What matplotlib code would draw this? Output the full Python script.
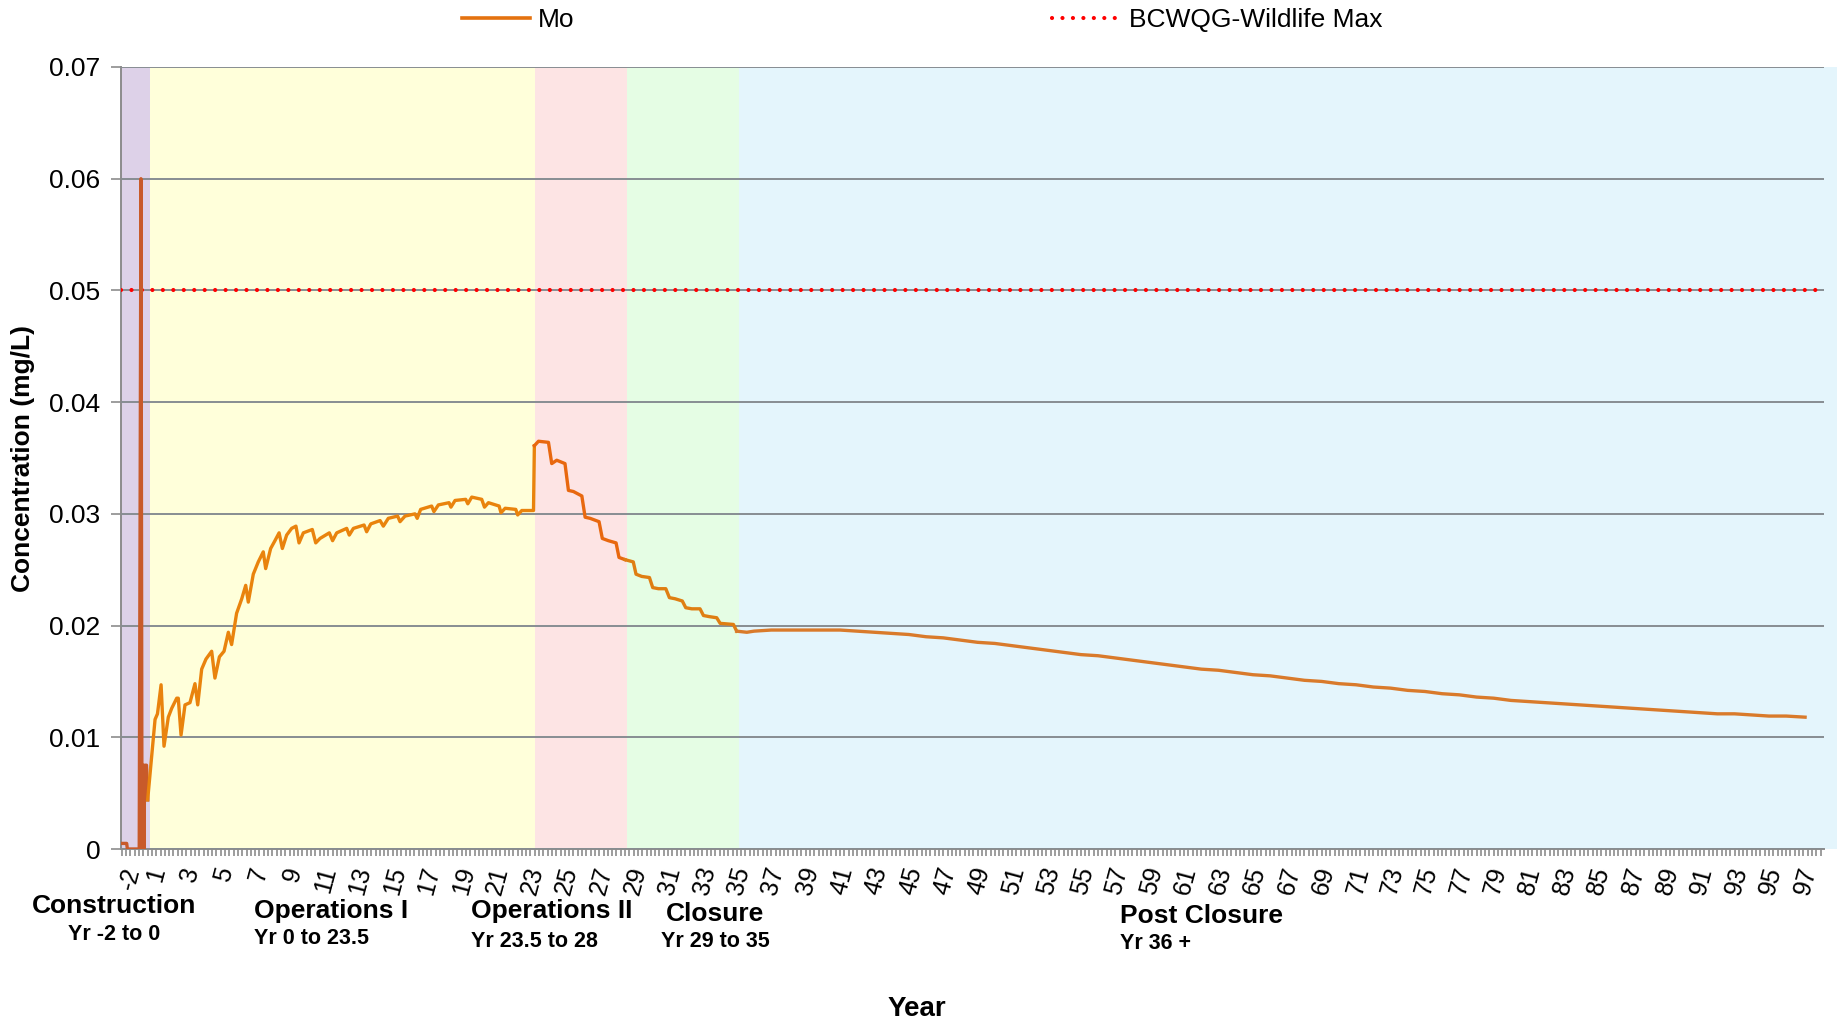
import numpy as np
import matplotlib
matplotlib.use("Agg")
import matplotlib.pyplot as plt
from matplotlib.lines import Line2D
from matplotlib.ticker import MultipleLocator

plt.rcParams["font.family"] = ["Liberation Sans", "DejaVu Sans"]

# ----------------------------------------------------------------------
# Data (x in axis "year" units, y in mg/L)
# ----------------------------------------------------------------------

# construction period (darker line)
constr_year = [-0.80, -0.47, -0.43, 0.26, 0.36, 0.42, 0.48, 0.53, 0.58, 0.68, 0.75]
constr_mo = [0.0005, 0.0005, 0.0, 0.0, 0.060, 0.0, 0.0075, 0.0, 0.0075, 0.0075, 0.0044]

# operations / closure
mo_year = [
    0.75, 1.18, 1.32, 1.53, 1.70, 1.95, 2.15, 2.44, 2.53, 2.69, 2.92, 3.21,
    3.50, 3.66, 3.89, 4.14, 4.47, 4.66, 4.92, 5.19, 5.44, 5.63, 5.92, 6.22,
    6.45, 6.60, 6.89, 7.18, 7.47, 7.61, 7.90, 8.15, 8.39, 8.58, 8.83, 9.12,
    9.37, 9.55, 9.80, 10.32, 10.52, 10.77, 11.31, 11.50, 11.74, 12.32, 12.47,
    12.71, 13.33, 13.48, 13.72, 14.26, 14.45, 14.74, 15.28, 15.42, 15.71,
    16.29, 16.42, 16.62, 17.26, 17.39, 17.65, 18.27, 18.38, 18.62, 19.24,
    19.36, 19.59, 20.17, 20.33, 20.56, 21.18, 21.29, 21.53, 22.15, 22.26,
    22.50, 23.18, 23.23, 23.47, 24.05, 24.24, 24.53, 25.01, 25.21, 25.50,
    25.99, 26.18, 26.47, 26.99, 27.18, 27.53, 27.98, 28.15, 28.50, 28.98,
    29.14, 29.47, 29.92, 30.11, 30.44, 30.87, 31.08, 31.41, 31.83, 32.03,
    32.38, 32.86, 33.06, 33.40, 33.83, 34.03, 34.80, 34.99, 35.58,
]
mo_conc = [
    0.0044, 0.0116, 0.0121, 0.0147, 0.0092, 0.0118, 0.0126, 0.0135, 0.0135,
    0.0102, 0.0129, 0.0131, 0.0148, 0.0129, 0.0161, 0.0170, 0.0177, 0.0153,
    0.0172, 0.0177, 0.0194, 0.0183, 0.0211, 0.0224, 0.0236, 0.0221, 0.0246,
    0.0257, 0.0266, 0.0251, 0.0269, 0.0276, 0.0283, 0.0269, 0.0281, 0.0287,
    0.0289, 0.0274, 0.0283, 0.0286, 0.0274, 0.0278, 0.0283, 0.0276, 0.0283,
    0.0287, 0.0281, 0.0287, 0.0290, 0.0284, 0.0291, 0.0294, 0.0289, 0.0296,
    0.0298, 0.0293, 0.0298, 0.0300, 0.0296, 0.0304, 0.0307, 0.0302, 0.0308,
    0.0310, 0.0306, 0.0312, 0.0313, 0.0309, 0.0315, 0.0313, 0.0306, 0.0310,
    0.0307, 0.0301, 0.0305, 0.0304, 0.0299, 0.0303, 0.0303, 0.0361, 0.0365,
    0.0364, 0.0345, 0.0348, 0.0345, 0.0321, 0.0320, 0.0316, 0.0297, 0.0296,
    0.0293, 0.0278, 0.0276, 0.0274, 0.0261, 0.0259, 0.0257, 0.0246, 0.0244,
    0.0243, 0.0234, 0.0233, 0.0233, 0.0225, 0.0224, 0.0222, 0.0216, 0.0215,
    0.0215, 0.0209, 0.0208, 0.0207, 0.0202, 0.0201, 0.0195, 0.0194,
]

# post closure, roughly yearly
post_year = list(range(36, 97)) + [97.1]
post_conc = [
    0.0195, 0.0196, 0.0196, 0.0196, 0.0196, 0.0196, 0.0195, 0.0194, 0.0193,
    0.0192, 0.0190, 0.0189, 0.0187, 0.0185, 0.0184, 0.0182, 0.0180, 0.0178,
    0.0176, 0.0174, 0.0173, 0.0171, 0.0169, 0.0167, 0.0165, 0.0163, 0.0161,
    0.0160, 0.0158, 0.0156, 0.0155, 0.0153, 0.0151, 0.0150, 0.0148, 0.0147,
    0.0145, 0.0144, 0.0142, 0.0141, 0.0139, 0.0138, 0.0136, 0.0135, 0.0133,
    0.0132, 0.0131, 0.0130, 0.0129, 0.0128, 0.0127, 0.0126, 0.0125, 0.0124,
    0.0123, 0.0122, 0.0121, 0.0121, 0.0120, 0.0119, 0.0119, 0.0118,
]

guideline = 0.05  # BCWQG wildlife max

# phase bands
phase_edges = [-0.80, 0.89, 23.27, 28.6, 35.13, 99.0]
phase_colors = ["#DDD1E8", "#FFFFDA", "#FDE4E4", "#E5FDE4", "#E4F5FC"]
line_colors = ["#C85A2A", "#E9830D", "#E8680F", "#DF7E12", "#D97A2B"]

phase_names = ["Construction", "Operations I", "Operations II", "Closure", "Post Closure"]
phase_spans = ["Yr -2 to 0", "Yr 0 to 23.5", "Yr 23.5 to 28", "Yr 29 to 35", "Yr 36 +"]

# label anchors sit a little left of the category they name
tick_pos = [-0.8] + [v - 0.35 for v in range(1, 98, 2)]
tick_labels = ["-2"] + [str(v) for v in range(1, 98, 2)]

# ----------------------------------------------------------------------

W, H = 1837, 1022
fig = plt.figure(figsize=(W / 100, H / 100), dpi=100)
ax = fig.add_axes([121 / W, 1 - 849 / H, (1824 - 121) / W, (849 - 67) / H])

ax.set_xlim(-0.8, 98.2)
ax.set_ylim(0, 0.07)

for i, c in enumerate(phase_colors):
    ax.axvspan(phase_edges[i], phase_edges[i + 1], color=c, lw=0,
               zorder=0, clip_on=(i < 4))

ax.set_yticks(np.arange(0, 0.0701, 0.01))
ax.set_yticklabels(["0"] + [f"{v:.2f}" for v in np.arange(0.01, 0.0701, 0.01)])
ax.yaxis.grid(True, color="#878D92", lw=1.4, zorder=1)
ax.set_axisbelow(False)

ax.axhline(guideline, color="#FF0000", lw=3.0, ls=(0, (0.01, 2.5)),
           dash_capstyle="round", zorder=3)

# Mo series by phase
all_x = np.array(mo_year + post_year)
all_y = np.array(mo_conc + post_conc)
ax.plot(constr_year, constr_mo, color=line_colors[0], lw=2.4, zorder=4)
for i in range(1, 5):
    lo, hi = phase_edges[i], phase_edges[i + 1]
    idx = np.where((all_x >= lo) & (all_x <= hi))[0]
    if len(idx) == 0:
        continue
    if idx[0] > 0:
        idx = np.r_[idx[0] - 1, idx]
    ax.plot(all_x[idx], all_y[idx], color=line_colors[i], lw=2.4, zorder=4,
            solid_joinstyle="round")

for s in ["top", "right"]:
    ax.spines[s].set_visible(False)
for s in ["left", "bottom"]:
    ax.spines[s].set_color("#8C8C8C")
    ax.spines[s].set_linewidth(1.4)

ax.set_xticks(tick_pos)
ax.set_xticklabels(tick_labels, rotation=75, ha="right",
                   rotation_mode="anchor", fontsize=18)
ax.xaxis.set_minor_locator(MultipleLocator(0.25))
ax.tick_params(axis="x", which="major", length=0, pad=11)
ax.tick_params(axis="x", which="minor", length=5, width=1.2, color="#8C8C8C")
ax.tick_params(axis="y", length=7, width=1.2, color="#8C8C8C", labelsize=19,
               pad=8)

fig.text(23 / W, 1 - 459 / H, "Concentration (mg/L)", rotation=90,
         ha="center", va="center", fontsize=19, fontweight="bold")
fig.text(917 / W, 1 - 1009 / H, "Year", ha="center", va="center",
         fontsize=20, fontweight="bold")

# phase annotations under the axis
name_xy = [(114, 906, "center"), (254, 911, "left"), (471, 911, "left"),
           (715, 914, "center"), (1120, 916, "left")]
span_xy = [(114, 934, "center"), (254, 938, "left"), (471, 941, "left"),
           (715, 941, "center"), (1120, 943, "left")]
for (x, y, ha), name in zip(name_xy, phase_names):
    fig.text(x / W, 1 - y / H, name, ha=ha, va="center", fontsize=19,
             fontweight="bold")
for (x, y, ha), span in zip(span_xy, phase_spans):
    fig.text(x / W, 1 - y / H, span, ha=ha, va="center", fontsize=15.5,
             fontweight="bold")

handles = [
    Line2D([], [], color="#E4720F", lw=2.6),
    Line2D([], [], color="#FF0000", lw=3.0, ls=(0, (0.01, 2.5)),
           dash_capstyle="round"),
]
fig.legend(handles, ["Mo", "BCWQG-Wildlife Max"], loc="center",
           bbox_to_anchor=(922 / W, 1 - 20 / H), ncol=2, frameon=False,
           fontsize=19, handlelength=2.6, handletextpad=0.3,
           columnspacing=18.1)

fig.savefig("out.png", dpi=100)
